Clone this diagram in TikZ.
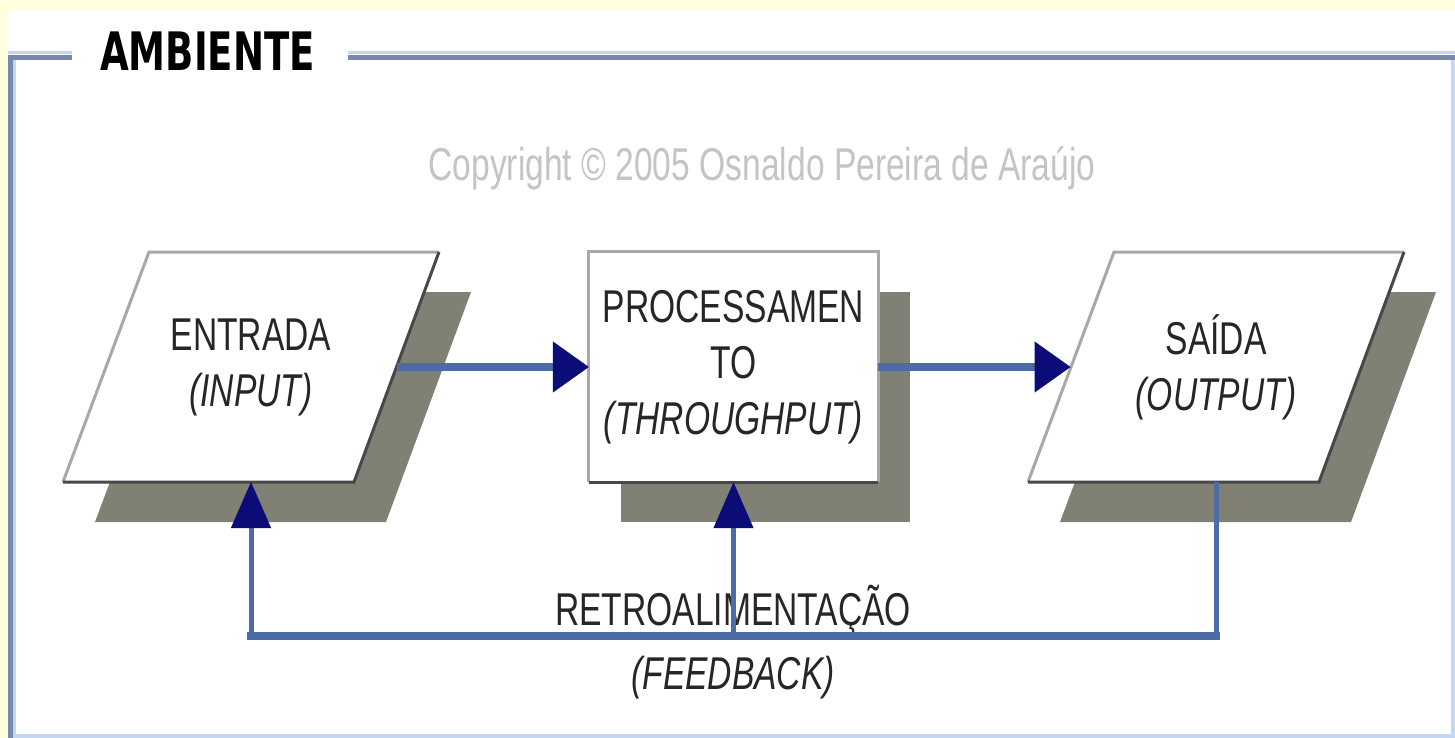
\documentclass[tikz,border=0pt]{standalone}
\usepackage{fontspec}
\setmainfont[FakeStretch=0.73]{Liberation Sans}
\newfontfamily\titlefont[FakeStretch=0.70]{DejaVu Sans}
\usetikzlibrary{arrows.meta,shadows}
\definecolor{pageyellow}{RGB}{255,255,221}
\definecolor{framedark}{RGB}{116,137,172}
\definecolor{framelight}{RGB}{196,214,242}
\definecolor{copygray}{RGB}{196,196,196}
\definecolor{shadowgray}{RGB}{128,128,116}
\definecolor{flowblue}{RGB}{75,108,165}
\definecolor{tipnavy}{RGB}{12,12,120}
\definecolor{edgelight}{RGB}{168,168,168}
\definecolor{edgedark}{RGB}{72,72,72}
% slanted stage box with its shadow; #1 name, #2 centre, #3 text
\newcommand{\slantbox}[3]{%
  \coordinate (#1) at (#2);
  \fill[shadowgray] ([shift={(-70,-75)}]#1) -- ([shift={(220,-75)}]#1)
    -- ([shift={(135,155)}]#1) -- ([shift={(-156,155)}]#1) -- cycle;
  \fill[white] ([shift={(-102,-115)}]#1) -- ([shift={(188,-115)}]#1)
    -- ([shift={(103,115)}]#1) -- ([shift={(-188,115)}]#1) -- cycle;
  \draw[edgelight,line width=3pt] ([shift={(-188,115)}]#1)
    -- ([shift={(-102,-115)}]#1) -- ([shift={(188,-115)}]#1);
  \draw[edgedark,line width=3pt] ([shift={(188,-115)}]#1)
    -- ([shift={(103,115)}]#1) -- ([shift={(-188,115)}]#1);
  \node[lbl] (#1-text) at (#1) {#3};
  \coordinate (#1-e) at ([shift={(145.5,0)}]#1);
  \coordinate (#1-w) at ([shift={(-145.5,0)}]#1);
  \coordinate (#1-s) at ([shift={(0,115)}]#1);}
\begin{document}
\begin{tikzpicture}[x=1pt,y=-1pt,line join=miter,
  lbl/.style={font=\fontsize{46}{56}\selectfont,text=black!85,align=center},
  procbox/.style={rectangle,minimum width=289pt,minimum height=230pt,
    inner sep=0pt,fill=white,drop shadow={shadow xshift=32pt,
    shadow yshift=-40pt,fill=shadowgray,opacity=1}},
  flow/.style={draw=flowblue,line width=8pt},
  feed/.style={draw=flowblue,line width=5pt},
  htip/.style={-{Triangle[length=36pt,width=51pt,line width=1pt,color=tipnavy]}},
  vtip/.style={-{Triangle[length=46pt,width=40pt,line width=1pt,color=tipnavy]}}]
  \useasboundingbox (0,0) rectangle (1455,738);
  % page and frame
  \fill[pageyellow] (0,0) rectangle (1455,738);
  \fill[white] (8,10) rectangle (1455,738);
  \draw[framelight,line width=3pt] (8,53) -- (72,53) (348,53) -- (1455,53);
  \draw[framedark,line width=5pt] (8,57.5) -- (72,57.5) (348,57.5) -- (1455,57.5);
  \draw[framedark,line width=5pt] (10.5,55) -- (10.5,738);
  \draw[framelight,line width=3pt] (14.5,60) -- (14.5,738);
  \draw[framelight,line width=4pt] (1453,60) -- (1453,738);
  \draw[framelight,line width=4pt] (13,736) -- (1455,736);
  \node[font=\titlefont\bfseries\fontsize{53}{60}\selectfont,anchor=base]
    (ambiente) at (207.5,71) {AMBIENTE};
  \node[lbl,text=copygray,anchor=base] (copyright) at (762,181)
    {Copyright © 2005 Osnaldo Pereira de Araújo};
  % the three stages
  \slantbox{entrada}{251,367}{ENTRADA\\\textit{(INPUT)}}
  \node[procbox,lbl] (proc) at (733.5,367) {PROCESSAMEN\\TO\\\textit{(THROUGHPUT)}};
  \draw[edgelight,line width=3pt] (proc.south west) -- (proc.north west)
    -- (proc.north east) -- (proc.south east);
  \draw[edgedark,line width=3pt] (proc.south east) -- (proc.south west);
  \slantbox{saida}{1216,367}{SAÍDA\\\textit{(OUTPUT)}}
  % flow and feedback
  \draw[flow,htip] (entrada-e) -- (proc.west);
  \draw[flow,htip] (proc.east) -- (saida-w);
  \node[lbl,font=\fontsize{46}{64}\selectfont] (fblabel) at (733,642)
    {RETROALIMENTAÇÃO\\\textit{(FEEDBACK)}};
  \coordinate (fbline) at (733.5,636);
  \draw[feed] (saida-s) -- (saida-s |- fbline);
  \draw[flow,line cap=rect] (saida-s |- fbline) -- (entrada-s |- fbline);
  \draw[feed,vtip] (entrada-s |- fbline) -- (entrada-s);
  \draw[feed,vtip] (fbline) -- (proc.south);
\end{tikzpicture}
\end{document}
